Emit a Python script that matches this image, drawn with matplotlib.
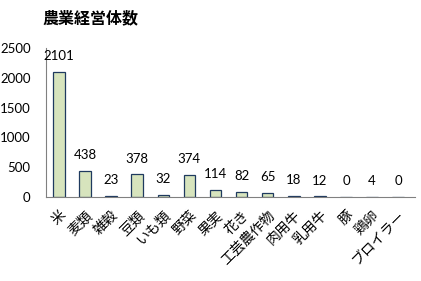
import matplotlib
matplotlib.use("Agg")
import matplotlib.pyplot as plt
import numpy as np

plt.rcParams['font.family'] = ['Noto Sans CJK JP', 'DejaVu Sans']

categories = ["米", "麦類", "雑穀", "豆類", "いも類", "野菜", "果実", "花き",
              "工芸農作物", "肉用牛", "乳用牛", "豚", "鶏卵", "ブロイラー"]
values = [2101, 438, 23, 378, 32, 374, 114, 82, 65, 18, 12, 0, 4, 0]
yticks = [0, 500, 1000, 1500, 2000, 2500]

fig = plt.figure(figsize=(4.21, 2.81), dpi=100)
ax = fig.add_axes([0.109, 0.299, 0.877, 0.53])

x = np.arange(len(categories))
ax.bar(x, values, width=0.44, color="#D7E4BD", edgecolor="#1F3A5F", linewidth=0.9)

for xi, v in zip(x, values):
    ax.annotate(str(v), (xi, v), xytext=(0, 7), textcoords="offset points",
                ha="center", va="bottom", fontsize=9.5, family=["Lato"])

ax.set_xlim(-0.5, len(categories) - 0.35)
ax.set_ylim(0, 2500)
ax.set_yticks(yticks)
ax.set_yticklabels([str(t) for t in yticks], fontsize=9.5, family=["Lato"])
ax.set_xticks(x)
ax.set_xticklabels(categories, rotation=45, ha="right", rotation_mode="anchor", fontsize=10)
ax.tick_params(axis="both", length=0)
ax.tick_params(axis="y", pad=11)
ax.tick_params(axis="x", pad=8)

for s in ["top", "right"]:
    ax.spines[s].set_visible(False)
ax.spines["left"].set_color("#808080")
ax.spines["bottom"].set_color("#808080")
ax.spines["left"].set_linewidth(0.8)
ax.spines["bottom"].set_linewidth(0.8)

fig.text(0.1, 0.935, "農業経営体数", fontsize=11.5, fontweight="bold", ha="left", va="center")

fig.savefig("out.png", dpi=100)
